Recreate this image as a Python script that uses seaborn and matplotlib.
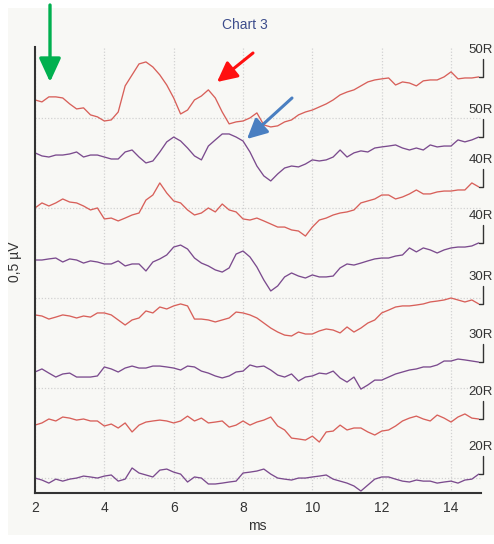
import numpy as np
import pandas as pd
import matplotlib
matplotlib.use("Agg")
import matplotlib.pyplot as plt
from matplotlib import font_manager
from matplotlib.patches import Rectangle
from matplotlib.ticker import MultipleLocator
import seaborn as sns

# ---------------- data ----------------
time_ms = np.round(np.arange(2.0, 14.81, 0.2), 1)

labels = ["50R", "50R", "40R", "40R", "30R", "30R", "20R", "20R"]
offsets = [21, 18, 15, 12, 9, 6, 3, 0]
series_colors = ["#d8605a", "#7b4b8e", "#d8605a", "#7b4b8e",
                 "#d8605a", "#7b4b8e", "#d8605a", "#7b4b8e"]

red_50 = [0, -0.11, 0.17, 0.17, 0.11, -0.22, -0.5, -0.44, -0.83, -0.94,
          -1.17, -1.11, -0.67, 0.78, 1.39, 2.0, 2.11, 1.83, 1.39, 0.83,
          0.11, -0.78, -0.56, 0, 0.22, 0.56, 0.11, -0.67, -1.33, -1.22,
          -1.17, -1.0, -0.72, -1.39, -1.5, -1.44, -1.22, -1.11, -0.83, -0.67,
          -0.56, -0.39, -0.22, 0, 0.28, 0.44, 0.56, 0.78, 1.0, 1.11,
          1.17, 1.22, 0.83, 1.0, 0.94, 0.78, 1.06, 1.11, 1.11, 1.28,
          1.56, 1.17, 1.22, 1.22, 1.28]
purple_50 = [0.06, -0.11, -0.17, -0.06, -0.06, 0, 0.11, -0.17, -0.06, -0.06,
             -0.17, -0.28, -0.28, 0.11, 0.22, -0.17, -0.5, -0.39, 0.11, 0.67,
             0.94, 0.72, 0.33, -0.11, -0.33, 0.44, 0.78, 1.11, 1.11, 0.94,
             0.72, 0.11, -0.67, -1.22, -1.5, -1.11, -0.78, -0.67, -0.72, -0.56,
             -0.33, -0.39, -0.33, -0.17, 0.22, -0.17, 0.06, 0.17, 0.11, 0.33,
             0.39, 0.44, 0.5, 0.33, 0.22, 0.33, 0.22, 0.5, 0.39, 0.44,
             0.44, 0.78, 0.67, 0.78, 0.94]
red_40 = [0, 0.28, 0.11, 0.28, 0.5, 0.33, 0.28, 0.11, -0.11, 0,
          -0.61, -0.56, -0.72, -0.56, -0.39, -0.28, 0.44, 0.72, 1.39, 0.83,
          0.39, 0.28, -0.11, -0.39, -0.28, 0, -0.22, 0.22, -0.11, -0.22,
          -0.61, -0.67, -0.56, -0.72, -0.89, -1.06, -1.06, -1.22, -1.28, -1.56,
          -1.06, -0.67, -0.56, -0.39, -0.28, -0.22, -0.11, 0.28, 0.39, 0.5,
          0.72, 0.72, 0.5, 0.61, 0.78, 1.0, 0.78, 0.78, 0.89, 0.94,
          0.94, 1.0, 1.0, 1.39, 1.17]
purple_40 = [0.11, 0.11, 0.17, 0.22, 0, 0.17, 0.11, -0.06, 0.06, 0,
             -0.11, -0.11, 0.06, -0.22, -0.11, -0.11, -0.5, 0, 0.17, 0.39,
             0.83, 0.94, 0.72, 0.22, -0.06, -0.22, -0.44, -0.56, -0.33, 0.44,
             0.61, 0.28, -0.28, -1.0, -1.61, -1.33, -0.83, -0.61, -0.78, -0.89,
             -0.72, -0.83, -0.83, -0.78, -0.33, -0.11, -0.17, -0.06, 0.06, 0.17,
             0.22, 0.22, 0.33, 0.39, 0.78, 0.56, 0.78, 0.67, 0.5, 0.67,
             0.78, 0.83, 0.83, 0.89, 1.06]
red_30 = [0.06, 0, -0.17, -0.06, 0.06, 0, -0.11, 0, -0.06, 0.17,
          0.17, 0.06, -0.22, -0.5, -0.22, -0.11, 0.28, 0.17, 0.5, 0.39,
          0.56, 0.67, 0.56, -0.17, -0.17, -0.22, -0.33, -0.22, -0.11, 0.22,
          0.17, 0.06, -0.11, -0.39, -0.67, -0.89, -1.06, -1.11, -0.89, -1.0,
          -1.0, -0.83, -0.72, -0.78, -0.94, -0.61, -0.89, -0.67, -0.39, -0.22,
          0.17, 0.33, 0.5, 0.56, 0.56, 0.61, 0.67, 0.78, 0.83, 0.89,
          1.0, 0.89, 0.78, 0.89, 0.67]
purple_30 = [-0.11, 0.06, -0.17, -0.39, -0.22, -0.17, -0.39, -0.39, -0.39, -0.33,
             0.17, 0.06, -0.11, 0.11, 0.22, 0.11, 0.11, 0.22, 0.22, 0.17,
             0.11, 0, 0.22, 0.17, -0.06, -0.17, -0.33, -0.44, -0.33, -0.11,
             -0.06, 0.28, 0.17, 0.22, 0, -0.28, -0.39, -0.22, -0.61, -0.39,
             -0.33, -0.17, -0.22, -0.06, -0.44, -0.67, -0.39, -1.06, -0.83, -0.56,
             -0.56, -0.39, -0.22, -0.11, 0, 0.06, 0.17, 0.17, 0.28, 0.5,
             0.5, 0.61, 0.56, 0.5, 0.44]
red_20 = [-0.06, 0.06, 0.28, 0.17, 0.39, 0.33, 0.22, 0.28, 0.17, 0.17,
          -0.11, 0, -0.22, 0.06, -0.44, -0.06, 0.11, 0.17, 0.22, 0.17,
          0.06, 0.17, 0.44, 0.17, 0.33, 0.06, 0.11, 0.17, -0.17, -0.06,
          0.17, -0.06, 0.11, 0.22, 0.39, -0.11, -0.33, -0.78, -0.83, -0.89,
          -0.67, -1.0, -0.44, -0.39, -0.06, -0.33, -0.22, -0.22, -0.44, -0.61,
          -0.39, -0.33, -0.11, 0.17, 0.33, 0.44, 0.28, 0.17, 0.5, 0.33,
          0.11, 0.39, 0.56, 0.33, 0.28]
purple_20 = [0, -0.11, -0.28, -0.06, -0.17, -0.06, 0, 0.11, 0.06, 0,
             0.11, 0.17, -0.17, -0.06, 0.56, 0.28, 0.17, 0.06, 0.44, 0.5,
             0.33, 0.22, -0.22, 0.06, 0, -0.33, -0.33, -0.28, -0.22, -0.17,
             0.28, 0.33, 0.39, 0.5, 0.22, 0, -0.06, -0.11, 0, 0,
             0.06, 0.11, 0.17, -0.06, -0.17, -0.28, -0.44, -0.72, -0.39, -0.06,
             0.06, 0.06, -0.06, -0.17, -0.22, -0.11, -0.17, -0.17, -0.28, -0.22,
             -0.17, -0.28, -0.11, -0.06, 0.22]

traces = [red_50, purple_50, red_40, purple_40, red_30, purple_30, red_20, purple_20]

x_ticks = [2, 4, 6, 8, 10, 12, 14]
title = "Chart 3"
x_label = "ms"
y_label = "0,5 µV"

# ---------------- style ----------------
sns.set_style("white")
names = {f.name for f in font_manager.fontManager.ttflist}
fams = [f for f in ["Liberation Sans Narrow", "Liberation Sans", "DejaVu Sans"] if f in names]
plt.rcParams["font.family"] = fams

W, H = 494, 544
fig = plt.figure(figsize=(W / 100, H / 100), dpi=100)
fig.patch.set_facecolor("white")
fig.add_artist(Rectangle((8 / W, 9 / H), (W - 8) / W, (536 - 9) / H,
                         transform=fig.transFigure, facecolor="#f8f8f5",
                         edgecolor="none", zorder=0))

x_right = 14.85
ax_w_px = (x_right - 2) * 34.67
ax = fig.add_axes([35 / W, 51 / H, ax_w_px / W, (493 - 47) / H])
ax.set_facecolor("#f8f8f5")

for vals, off, col in zip(traces, offsets, series_colors):
    df = pd.DataFrame({"t": time_ms, "v": np.array(vals) + off})
    sns.lineplot(data=df, x="t", y="v", color=col, lw=0.95, ax=ax, clip_on=False)

# end markers with labels
for vals, off, lab in zip(traces, offsets, labels):
    end = vals[-1] + off
    ax.plot([time_ms[-1], 14.93, 14.93], [end, end, end + 1.0],
            color="#333333", lw=1.0, clip_on=False)
    ax.text(15.2, end + 1.15, lab, ha="right", va="bottom", fontsize=9.5,
            color="#333333", clip_on=False)

ax.set_xlim(2, x_right)
ax.set_ylim(-0.83, 23.94)
ax.set_xticks(x_ticks)
ax.set_xticklabels([str(v) for v in x_ticks], fontsize=10, color="#333333")
ax.xaxis.set_minor_locator(MultipleLocator(0.4))
ax.set_yticks([0, 5, 10, 15, 20])
ax.set_yticklabels([])
ax.yaxis.set_minor_locator(MultipleLocator(1))
ax.tick_params(axis="x", which="both", direction="out", length=4, width=1.3, color="#333333", pad=2)
ax.tick_params(axis="y", which="major", direction="out", length=3, width=3, color="#333333")
ax.tick_params(axis="y", which="minor", direction="out", length=4, width=1.2, color="#333333")

ax.grid(True, which="major", linestyle=(0, (1, 1.5)), color="#d2d2d2", lw=0.9)
for s in ["top", "right"]:
    ax.spines[s].set_visible(False)
for s in ["left", "bottom"]:
    ax.spines[s].set_color("#333333")
    ax.spines[s].set_linewidth(1.5)

ax.set_xlabel(x_label, fontsize=10, color="#333333", labelpad=3)
ax.set_ylabel(y_label, fontsize=10, color="#333333")
ax.yaxis.set_label_coords(-13 / ax_w_px, (493 - 262) / (493 - 47))
fig.text(245 / W, 1 - 25 / H, title, ha="center", va="center", fontsize=10,
         color="#3d4d8c")

# annotation arrows (figure pixel coordinates)
def arrow(tail, tip, color, lw, hl, hw):
    ax.annotate("", xy=(tip[0], H - tip[1]), xytext=(tail[0], H - tail[1]),
                xycoords="figure pixels", textcoords="figure pixels",
                arrowprops=dict(arrowstyle=f"-|>,head_length={hl},head_width={hw}",
                                color=color, lw=lw, mutation_scale=20,
                                shrinkA=0, shrinkB=0), annotation_clip=False)

arrow((50, 5), (50, 82), "#00b04f", 2.4, 0.72, 0.33)
arrow((253, 53), (217, 82), "#ff1010", 2.2, 0.6, 0.3)
arrow((292, 98), (247, 139), "#4a7fc1", 2.2, 0.6, 0.3)

fig.savefig("out.png", dpi=100)
